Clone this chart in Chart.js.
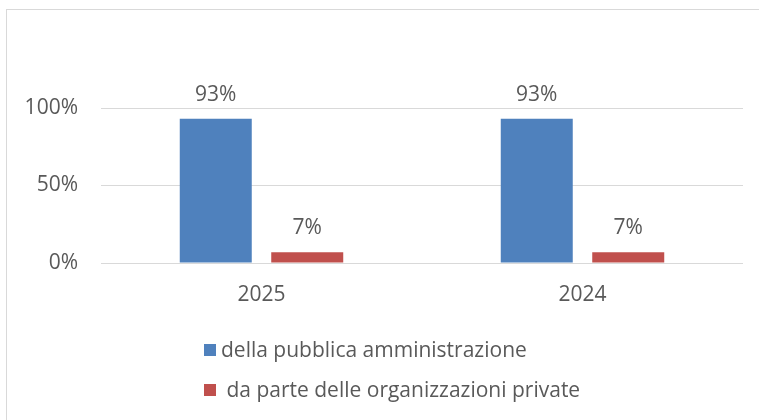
<!DOCTYPE html>
<html>
<head>
<meta charset="utf-8">
<script src="https://cdn.jsdelivr.net/npm/chart.js@4"></script>
<style>
  html, body { margin: 0; padding: 0; background: #fff; }
  #wrap { position: relative; width: 759px; height: 420px; overflow: hidden; }
  #frame { position: absolute; left: 6px; top: 9px; width: 800px; height: 500px; border: 1px solid #d9d9d9; box-sizing: border-box; }
  canvas { position: absolute; left: 0; top: 0; }
  #legend { position: absolute; left: 204px; top: 334px; font-family: "Open Sans", sans-serif; font-size: 21px; color: #595959; }
  .li { position: relative; height: 40px; line-height: 30px; white-space: pre; }
  .sw { display: inline-block; width: 12px; height: 12px; vertical-align: middle; margin-right: 5px; position: relative; top: -1px; }
</style>
</head>
<body>
<div id="wrap">
  <div id="frame"></div>
  <canvas id="c" width="759" height="420"></canvas>
  <div id="legend"></div>
</div>
<script>
const categories = ["2025", "2024"];
const seriesLabels = ["della pubblica amministrazione", " da parte delle organizzazioni private"];
const pubblica = [93, 93];
const private_ = [7, 7];
const yTicks = [0, 50, 100];
const colors = ["#4F81BD", "#C0504D"];

const FONT = "'Open Sans', sans-serif";
const TXT = "#595959";

const valueLabels = {
  id: "valueLabels",
  afterDatasetsDraw(chart) {
    const ctx = chart.ctx;
    ctx.save();
    ctx.font = "21px " + FONT;
    ctx.fillStyle = TXT;
    ctx.textAlign = "center";
    ctx.textBaseline = "middle";
    chart.data.datasets.forEach((ds, i) => {
      chart.getDatasetMeta(i).data.forEach((bar, j) => {
        ctx.fillText(ds.data[j] + "%", bar.x, bar.y - 24);
      });
    });
    ctx.restore();
  }
};

new Chart(document.getElementById("c"), {
  type: "bar",
  data: {
    labels: categories,
    datasets: [
      { label: seriesLabels[0], data: pubblica, backgroundColor: colors[0] },
      { label: seriesLabels[1], data: private_, backgroundColor: colors[1] }
    ]
  },
  options: {
    responsive: false,
    animation: false,
    events: [],
    layout: { padding: { top: 108, right: 16, left: 0, bottom: 0 } },
    categoryPercentage: 0.57,
    barPercentage: 0.787,
    plugins: { legend: { display: false }, tooltip: { enabled: false } },
    scales: {
      x: {
        grid: { display: false, drawTicks: false },
        border: { display: false },
        ticks: { color: TXT, font: { family: FONT, size: 21 }, padding: 19 },
        afterFit(s) { s.height = 157; }
      },
      y: {
        min: 0, max: 100,
        afterBuildTicks(s) { s.ticks = yTicks.map(v => ({ value: v })); },
        grid: { color: "#d9d9d9", lineWidth: 1, drawTicks: false },
        border: { display: false },
        ticks: { color: TXT, font: { family: FONT, size: 21 }, padding: 23, callback: v => v + "%" },
        afterFit(s) { s.width = 101; }
      }
    }
  },
  plugins: [valueLabels]
});

const leg = document.getElementById("legend");
seriesLabels.forEach((l, i) => {
  const d = document.createElement("div");
  d.className = "li";
  const sw = document.createElement("span");
  sw.className = "sw";
  sw.style.background = colors[i];
  d.appendChild(sw);
  d.appendChild(document.createTextNode(l));
  leg.appendChild(d);
});
</script>
</body>
</html>
